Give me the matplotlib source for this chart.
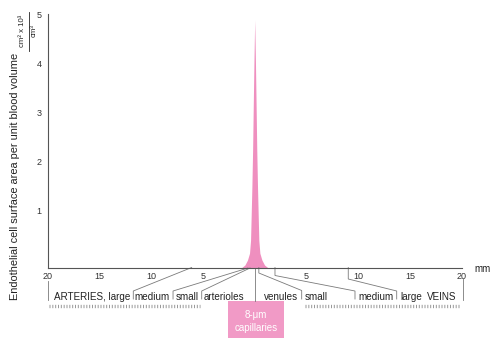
import matplotlib
matplotlib.use('Agg')
import matplotlib.pyplot as plt
from matplotlib.transforms import Affine2D, blended_transform_factory
from matplotlib.patches import Rectangle

plt.rcParams['font.family'] = ['Liberation Sans', 'DejaVu Sans']

# ---- data ----
dist_mm = [-1.25, -0.95, -0.7, -0.5, -0.40, -0.34, -0.27, -0.20, -0.14, -0.07, 0.0,
           0.07, 0.14, 0.20, 0.27, 0.34, 0.40, 0.5, 0.7, 0.95, 1.25]
surface = [-0.15, -0.10, 0.0, 0.14, 0.40, 0.90, 1.50, 2.24, 3.10, 4.05, 4.88,
           4.05, 3.10, 2.24, 1.50, 0.90, 0.40, 0.14, 0.0, -0.10, -0.15]

y_ticks = [1, 2, 3, 4, 5]
x_ticks = [-20, -15, -10, -5, 5, 10, 15, 20]
x_tick_labels = ['20', '15', '10', '5', '5', '10', '15', '20']

seg_names = ['ARTERIES, large', 'medium', 'small', 'arterioles',
             'venules', 'small', 'medium', 'large', 'VEINS']
seg_text_x = [-19.39, -11.63, -7.63, -4.90, 0.90, 4.79, 10.01, 14.04, 16.62]

PINK = '#EF8FBF'
BOX = '#F19AC6'
LINE = '#7a7a7a'

fig = plt.figure(figsize=(5.0, 3.46), dpi=100)
ax = fig.add_axes([47.7 / 500, (346 - 267.5) / 346, 414 / 500, 253.4 / 346])
ax.set_xlim(-20, 20)
ax.set_ylim(-0.15, 5.0)

ax.fill_between(dist_mm, surface, -0.15, color=PINK, linewidth=0)

for s in ['top', 'right']:
    ax.spines[s].set_visible(False)
ax.spines['left'].set_color('#555555')
ax.spines['bottom'].set_color('#555555')
ax.spines['left'].set_linewidth(0.8)
ax.spines['bottom'].set_linewidth(0.8)

ax.set_yticks(y_ticks)
ax.set_yticklabels([str(t) for t in y_ticks])
ax.set_xticks(x_ticks)
ax.set_xticklabels(x_tick_labels)
ax.tick_params(axis='both', length=0, labelsize=6.5, colors='#333333')
ax.tick_params(axis='y', pad=4.5)
ax.tick_params(axis='x', pad=3.5)

# transform: x in data, y in top-origin pixels
pix = Affine2D().scale(1, -1).translate(0, 346).scale(1 / 100.0) + fig.dpi_scale_trans
tr = blended_transform_factory(ax.transData, pix)
ftr = pix  # full pixel transform

def seg(xs, ys, **kw):
    ax.plot(xs, ys, transform=tr, clip_on=False, color=LINE, lw=0.6, **kw)

# connectors (arteries side)
seg([-6.09, -11.73, -11.73], [267.5, 291, 299])
seg([-0.65, -7.89, -7.89], [268, 291, 299])
seg([-0.45, -5.12, -5.12], [268, 291, 299])
# connectors (veins side)
seg([0.40, 0.40, 4.54, 4.54], [267.5, 273, 290.5, 299])
seg([1.96, 1.96, 9.69, 9.69], [267.5, 275.5, 291, 299])
seg([9.04, 9.04, 13.72, 13.72], [267.5, 279, 291, 299])
# end bars
seg([-19.97, -19.97], [281, 300])
seg([20.1, 20.1], [278, 300])
# capillary line
seg([0.0, 0.0], [267.5, 301])

# dotted rulers
for x0, x1 in [(-19.9, -5.3), (4.86, 19.84)]:
    ax.plot([x0, x1], [306, 306], transform=tr, clip_on=False, color='#9a9a9a',
            lw=2.4, linestyle=(0, (0.3, 0.55)), solid_capstyle='butt',
            dash_capstyle='butt')

for name, x in zip(seg_names, seg_text_x):
    ax.text(x, 296.5, name, transform=tr, ha='left', va='center',
            fontsize=7.1, color='#222222')

# capillaries box
ax.add_patch(Rectangle((-2.56, 301), 5.42, 36.5, transform=tr, clip_on=False,
                       facecolor=BOX, edgecolor='none'))
ax.text(0.15, 315, '8-\u03bcm', transform=tr, ha='center', va='center',
        fontsize=7, color='white')
ax.text(0.15, 328, 'capillaries', transform=tr, ha='center', va='center',
        fontsize=7, color='white')

# mm label
fig.text(483, 269, 'mm', transform=ftr, ha='center', va='center', fontsize=7,
         color='#222222')

# y-axis label
fig.text(15, 176, 'Endothelial cell surface area per unit blood volume',
         transform=ftr, rotation=90, ha='center', va='center', fontsize=7.9,
         color='#222222')
# units fraction
fig.text(23, 31, 'cm\u00b2 x 10\u00b3', transform=ftr, rotation=90, ha='center',
         va='center', fontsize=5.6, color='#222222')
fig.add_artist(plt.Line2D([28.5, 28.5], [12, 51], transform=ftr, color='#222222', lw=0.6))
fig.text(34, 31, 'cm\u00b3', transform=ftr, rotation=90, ha='center',
         va='center', fontsize=5.6, color='#222222')

fig.savefig('out.png', dpi=100)
